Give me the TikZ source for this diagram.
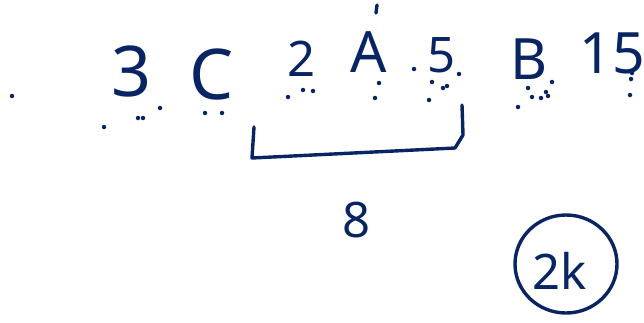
\documentclass[tikz,border=0pt]{standalone}
\usepackage{fontspec}
\setmainfont{Noto Sans}
\definecolor{ink}{RGB}{8,36,99}
\begin{document}
\begin{tikzpicture}[
    x=1pt,y=-1pt,
    big/.style={color=ink,inner sep=0pt,font=\fontsize{70}{76}\selectfont},
    mid/.style={color=ink,inner sep=0pt,font=\fontsize{57}{62}\selectfont},
    small/.style={color=ink,inner sep=0pt,font=\fontsize{49}{54}\selectfont},
    pen/.style={draw=ink,line width=3.4pt,line cap=round,line join=round},
    spot/.style={fill=ink,circle,inner sep=0pt,minimum size=4.5pt}
]
\useasboundingbox (0,0) rectangle (644,322);
\node[big] (three) at (132,72) {3};
\node[big] (cee) at (212,75) {C};
\node[small] (two) at (302,59) {2};
\node[mid] (ay) at (369,52) {A};
\node[small] (five) at (442,55) {5};
\node[mid] (bee) at (529,59) {B};
\node[mid] (fifteen) at (612,53) {15};
\node[small] (eight) at (357,220) {8};
\node[small] (twok) at (560,271) {2k};

\draw[pen] (377,5) -- (376,13);
\draw[pen] (254,127) -- (252,158) -- (455,148) -- (463,135) -- (462,105);
\draw[pen] (566,264) circle[x radius=51,y radius=49];

% stray dots
\foreach \p in {(12,96),(104,127),(138,118),(143,118),(160,108),(205,113),(222,113),
    (288,97),(303,90),(313,91),(379,83),(375,98),(414,69),(432,82),(443,88),(447,86),
    (459,74),(429,100),(528,88),(518,107),(532,97),(541,98),(548,96),(546,92),(552,82),
    (632,73),(631,79),(630,95)}
    \node[spot] at \p {};
\end{tikzpicture}
\end{document}
